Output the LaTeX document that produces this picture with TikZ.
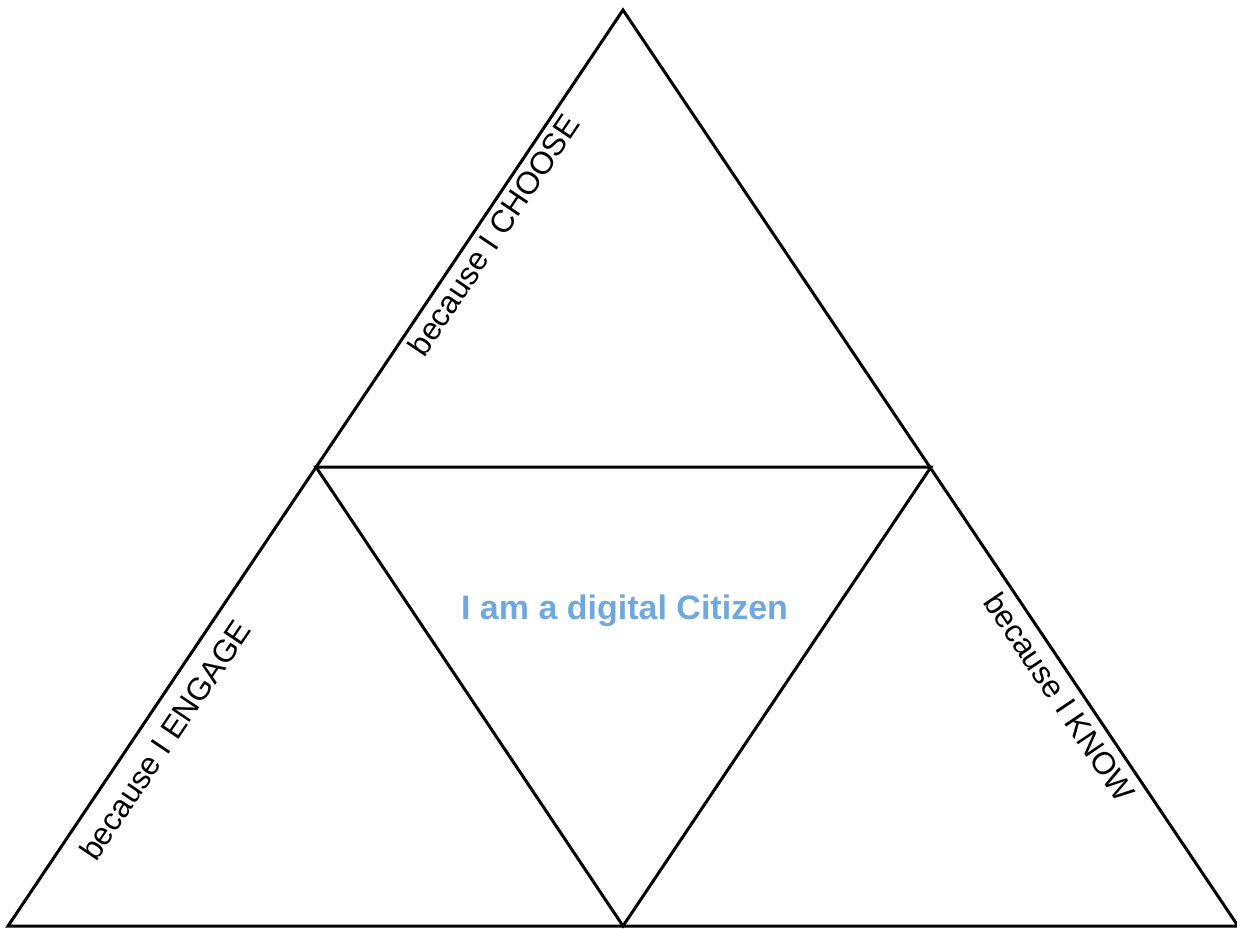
\documentclass[tikz,border=0pt]{standalone}
\usepackage{fontspec}
\setmainfont{Liberation Sans}
\definecolor{citizenblue}{HTML}{6FA8DC}
\begin{document}
\begin{tikzpicture}[x=1pt,y=-1pt,
  edge/.style={line width=3pt, line join=miter},
  sidelabel/.style={font=\fontsize{31.5}{36}\selectfont, inner sep=0pt},
  title/.style={font=\fontsize{34}{40}\selectfont\bfseries, text=citizenblue, inner sep=0pt}]
\useasboundingbox (0,0) rectangle (1237,929);
\coordinate (T) at (623,10);
\coordinate (B) at (8,926);
\coordinate (R) at (1238,926);
\coordinate (A) at (316,467);
\coordinate (C) at (931,467);
\coordinate (M) at (623,926);
\draw[edge] (T) -- (B) -- (R) -- cycle;
\draw[edge] (A) -- (C) -- (M) -- cycle;
\node[sidelabel, rotate=56.1] (choose) at (493.5,235) {because I CHOOSE};
\node[sidelabel, rotate=56.1] (engage) at (165,740) {because I ENGAGE};
\node[sidelabel, rotate=-56.1] (know) at (1060,697) {because I KNOW};
\node[title, anchor=base] (citizen) at (624.5,619) {I am a digital Citizen};
\end{tikzpicture}
\end{document}
